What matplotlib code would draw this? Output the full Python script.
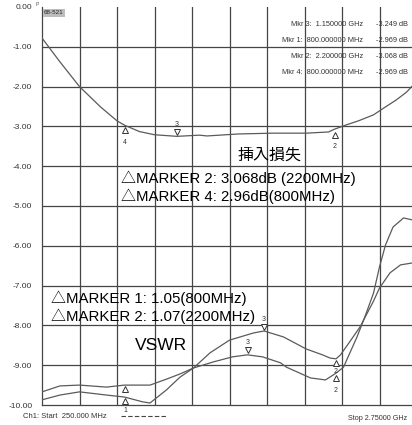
import matplotlib
matplotlib.use("Agg")
import matplotlib.pyplot as plt
from matplotlib.transforms import offset_copy

# ---- data (MHz, dB) ----
freq_il = [250, 370, 500, 640, 750, 800, 900, 1000, 1150, 1300, 1350, 1560,
           1790, 2010, 2160, 2200, 2280, 2360, 2460, 2540, 2610, 2680, 2720, 2750]
il_db = [-0.78, -1.38, -2.00, -2.51, -2.86, -2.97, -3.13, -3.21, -3.25, -3.22,
         -3.24, -3.19, -3.17, -3.17, -3.14, -3.07, -2.96, -2.86, -2.71, -2.51,
         -2.34, -2.14, -1.98, -1.88]

# VSWR trace that starts low and peaks near 1730 MHz
freq_vswr_a = [250, 370, 500, 680, 800, 920, 970, 1080, 1170, 1260, 1370, 1500,
               1660, 1730, 1860, 2010, 2120, 2170, 2210, 2240, 2300, 2370, 2460,
               2500, 2570, 2640, 2720, 2750]
vswr_a = [-9.87, -9.75, -9.67, -9.75, -9.80, -9.92, -9.95, -9.62, -9.30, -9.07,
          -8.69, -8.37, -8.19, -8.14, -8.29, -8.59, -8.74, -8.82, -8.84, -8.74,
          -8.42, -8.04, -7.39, -7.06, -6.68, -6.48, -6.43, -6.43]

# VSWR trace that starts flat and ends with the big peak
freq_vswr_b = [250, 370, 500, 680, 800, 970, 1080, 1170, 1260, 1390, 1520, 1620,
               1720, 1840, 1880, 2040, 2140, 2210, 2260, 2350, 2400, 2460, 2500,
               2540, 2590, 2660, 2720, 2750]
vswr_b = [-9.67, -9.52, -9.50, -9.55, -9.50, -9.50, -9.35, -9.22, -9.07, -8.92,
          -8.79, -8.74, -8.79, -8.94, -9.05, -9.32, -9.37, -9.20, -9.05, -8.29,
          -7.81, -7.19, -6.53, -5.98, -5.53, -5.30, -5.35, -5.45]

y_ticks = [0, -1, -2, -3, -4, -5, -6, -7, -8, -9, -10]
x_grid = [500, 750, 1000, 1250, 1500, 1750, 2000, 2250, 2500, 2750]

mkr_names = ["Mkr 3:  1.150000 GHz", "Mkr 1:  800.000000 MHz",
             "Mkr 2:  2.200000 GHz", "Mkr 4:  800.000000 MHz"]
mkr_values = ["-3.249 dB", "-2.969 dB", "-3.068 dB", "-2.969 dB"]

LAT = ["Liberation Sans", "Noto Sans CJK JP", "DejaVu Sans"]
JP = ["Noto Sans CJK JP", "DejaVu Sans"]
W, H = 412, 425

fig = plt.figure(figsize=(W / 100, H / 100), dpi=100)
# plot frame runs past the right edge of the scan, like the original
ax = fig.add_axes([42 / W, 1 - 405 / H, 375 / W, 398 / H])
ax.set_xlim(250, 2750)
ax.set_ylim(-10, 0)

grid_c = "#454545"
trace_c = "#5a5a5a"
for f in x_grid:
    ax.axvline(f, color=grid_c, lw=0.9, zorder=1)
for v in y_ticks[1:-1]:
    ax.axhline(v, color=grid_c, lw=0.9, zorder=1)
for s in ["top", "right"]:
    ax.spines[s].set_visible(False)
for s in ["left", "bottom"]:
    ax.spines[s].set_color(grid_c)
    ax.spines[s].set_linewidth(0.9)

ax.set_xticks([])
ax.set_yticks(y_ticks)
ax.set_yticklabels([f"{v:.2f}" if v else "0.00" for v in y_ticks],
                   family=LAT, fontsize=6, color="#333333")
ax.tick_params(axis="y", length=0, pad=7)

ax.plot(freq_il, il_db, color=trace_c, lw=0.9, zorder=3)
ax.plot(freq_vswr_a, vswr_a, color=trace_c, lw=0.9, zorder=3)
ax.plot(freq_vswr_b, vswr_b, color=trace_c, lw=0.9, zorder=3)


def mark(f, v, up, dy, label=None, ldy=0):
    # dy / ldy in pixels, positive = upwards
    tr = offset_copy(ax.transData, fig=fig, x=0, y=dy, units="dots")
    ax.plot([f], [v], marker="v" if up else "^", ms=4, mfc="white", mec="#333333",
            mew=0.7, transform=tr, zorder=4, clip_on=False)
    if label:
        ax.annotate(label, (f, v), xytext=(0, ldy), textcoords="offset pixels",
                    ha="center", va="center", fontsize=5, family=LAT, color="#333333")


# insertion loss markers
mark(800, -2.969, False, -5, "4", -17)
mark(1150, -3.249, True, 4, "3", 12)
mark(2200, -3.068, False, -6, "2", -17)
# VSWR markers
mark(800, -9.50, False, -4)
mark(800, -9.80, False, -4)
mark(1730, -8.14, True, 4, "3", 11)
mark(1620, -8.74, True, 5, "3", 12)
mark(2210, -8.84, False, -4, "2", -13)
mark(2210, -9.20, False, -5, "2", -17)

# marker readout table
for i, (n, v) in enumerate(zip(mkr_names, mkr_values)):
    y = 1 - [25, 41, 57, 72][i] / H
    fig.text(363 / W, y, n, ha="right", va="center", family=LAT, fontsize=5.3, color="#333333")
    fig.text(376 / W, y, v, ha="left", va="center", family=LAT, fontsize=5.3, color="#333333")

# hand-added notes
fig.text(238 / W, 1 - 155 / H, "挿入損失", family=JP, fontsize=11.5, va="center", ha="left")
fig.text(121 / W, 1 - 178 / H, "△MARKER 2: 3.068dB (2200MHz)", family=LAT, fontsize=10.8,
         va="center", ha="left")
fig.text(121 / W, 1 - 196 / H, "△MARKER 4: 2.96dB(800MHz)", family=LAT, fontsize=10.8,
         va="center", ha="left")
fig.text(51 / W, 1 - 298 / H, "△MARKER 1: 1.05(800MHz)", family=LAT, fontsize=10.8,
         va="center", ha="left")
fig.text(51 / W, 1 - 316 / H, "△MARKER 2: 1.07(2200MHz)", family=LAT, fontsize=10.8,
         va="center", ha="left")
fig.text(135 / W, 1 - 346 / H, "VSWR", family=LAT, fontsize=12.5, va="center", ha="left")

# instrument labels
fig.text(23 / W, 1 - 417 / H, "Ch1: Start  250.000 MHz", family=LAT, fontsize=5.5,
         va="center", color="#333333")
fig.text(348 / W, 1 - 419 / H, "Stop 2.75000 GHz", family=LAT, fontsize=5.2,
         va="center", color="#333333")
fig.text(125 / W, 1 - 411 / H, "1", family=LAT, fontsize=5, va="center", ha="center",
         color="#333333")
fig.add_artist(plt.Line2D([121 / W, 166 / W], [1 - 416 / H, 1 - 416 / H],
                          color="#444444", lw=0.8, ls=(0, (4, 2))))
fig.text(44 / W, 1 - 13 / H, "68-521", family=LAT, fontsize=4.5, va="center", ha="left",
         color="#222222", bbox=dict(facecolor="#bdbdbd", edgecolor="none", pad=0.8))
fig.text(37 / W, 1 - 5 / H, "P", family=LAT, fontsize=3.5, va="center", ha="center",
         color="#555555")

fig.savefig("out.png", dpi=100)
